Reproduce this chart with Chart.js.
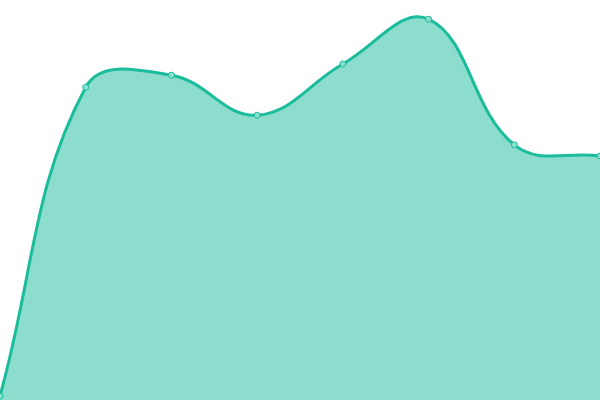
<!DOCTYPE html>
<html><head><meta charset="utf-8">
<script src="https://cdn.jsdelivr.net/npm/chart.js@4"></script>
<style>html,body{margin:0;padding:0;background:#fff}#w{width:600px;height:400px}</style>
</head><body><div id="w"><canvas id="c"></canvas></div>
<script>
const labels = ["A","B","C","D","E","F","G","H"];
const values = [1, 78.2, 81.2, 71.2, 84, 95.2, 63.8, 61];
new Chart(document.getElementById('c'), {
  type: 'line',
  data: { labels: labels, datasets: [{
    data: values,
    fill: true,
    backgroundColor: 'rgba(26,188,156,0.5)',
    borderColor: '#1abc9c',
    borderWidth: 3,
    tension: 0.4,
    pointRadius: 3,
    pointBackgroundColor: '#8ae0cf',
    pointBorderColor: '#1abc9c',
    pointBorderWidth: 1
  }]},
  options: {
    responsive: true, maintainAspectRatio: false, animation: false,
    layout: { padding: 0, autoPadding: false },
    plugins: { legend: { display: false }, tooltip: { enabled: false } },
    scales: {
      x: { display: false, offset: false },
      y: { display: false, min: 0, max: 100 }
    }
  }
});
</script></body></html>
